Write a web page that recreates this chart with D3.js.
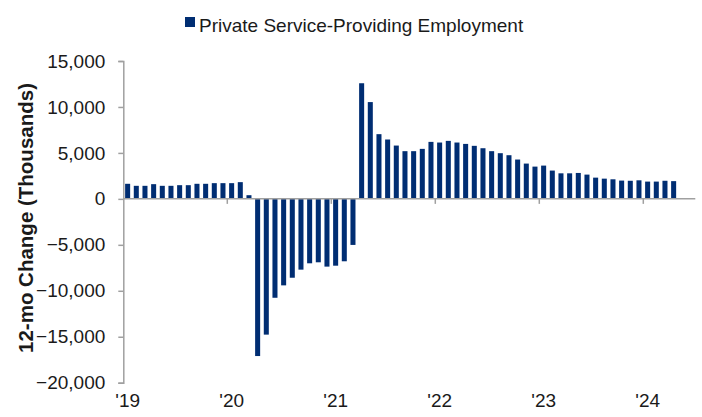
<!DOCTYPE html>
<html>
<head>
<meta charset="utf-8">
<script src="https://d3js.org/d3.v7.min.js"></script>
<style>
  body { margin: 0; background: #fff; }
  text { font-family: Arial, "Liberation Sans", sans-serif; }
</style>
</head>
<body>
<svg id="chart" width="702" height="417"></svg>
<script>
// monthly 12-mo change, Jan 2019 .. Apr 2024 (thousands)
var seriesName = "Private Service-Providing Employment";
var yearLabels = ["'19", "'20", "'21", "'22", "'23", "'24"];
var v2019 = [1640, 1420, 1420, 1600, 1420, 1420, 1490, 1490, 1640, 1640, 1710, 1710];
var v2020 = [1710, 1820, 400, -17100, -14770, -10760, -9410, -8580, -7700, -7010, -6900, -7370];
var v2021 = [-7270, -6790, -5010, 12580, 10530, 7040, 6460, 5800, 5190, 5190, 5440, 6200];
var v2022 = [6130, 6310, 6130, 5980, 5770, 5510, 5190, 4970, 4750, 4280, 3840, 3510];
var v2023 = [3620, 3080, 2780, 2780, 2820, 2640, 2310, 2200, 2130, 1990, 1970, 2020];
var v2024 = [1880, 1880, 1970, 1930];
var yTicks = [-20000, -15000, -10000, -5000, 0, 5000, 10000, 15000];
var monthsShown = 66; // axis runs through Jun 2024

var values = [].concat(v2019, v2020, v2021, v2022, v2023, v2024);
var data = values.map(function(v, i) { return { idx: i, value: v }; });

var svg = d3.select("#chart");
var margin = { left: 123.3, right: 702 - 695.3, top: 61, bottom: 417 - 382.7 };
var barColor = "#002d72";
var axisColor = "#a0a0a0";
var textColor = "#1a1a1a";
var fontSize = 19;

var x = d3.scaleBand()
    .domain(d3.range(monthsShown))
    .range([margin.left, 702 - margin.right])
    .paddingInner(0.42)
    .paddingOuter(0.21);
var step = x.step();

var y = d3.scaleLinear()
    .domain([-20000, 15000])
    .range([417 - margin.bottom, margin.top]);

// bars
svg.append("g")
  .selectAll("rect")
  .data(data)
  .enter().append("rect")
    .attr("x", function(d) { return x(d.idx); })
    .attr("width", x.bandwidth())
    .attr("y", function(d) { return y(Math.max(0, d.value)); })
    .attr("height", function(d) { return Math.abs(y(d.value) - y(0)); })
    .attr("fill", barColor);

// y axis
var yAxis = svg.append("g")
    .attr("transform", "translate(" + margin.left + ",0)")
    .call(d3.axisLeft(y).tickValues(yTicks).tickSize(5).tickPadding(13)
      .tickFormat(d3.format(",")));
yAxis.select(".domain").attr("stroke", axisColor).attr("stroke-width", 1.5);
yAxis.selectAll(".tick line").attr("stroke", axisColor).attr("stroke-width", 1.5);
yAxis.selectAll(".tick text")
    .attr("fill", textColor)
    .attr("font-size", fontSize)
    .style("font-family", "Arial, 'Liberation Sans', sans-serif");

// x axis line at zero
svg.append("line")
    .attr("x1", margin.left).attr("x2", 702 - margin.right)
    .attr("y1", y(0)).attr("y2", y(0))
    .attr("stroke", axisColor).attr("stroke-width", 1.5);

// year boundary ticks
var yearStarts = yearLabels.map(function(d, i) { return i * 12; });
svg.append("g").selectAll("line")
  .data(yearStarts.slice(1))
  .enter().append("line")
    .attr("x1", function(d) { return x(d) - step * x.paddingInner() / 2; })
    .attr("x2", function(d) { return x(d) - step * x.paddingInner() / 2; })
    .attr("y1", y(0)).attr("y2", y(0) + 5)
    .attr("stroke", axisColor).attr("stroke-width", 1.5);

// year labels centred on each January
svg.append("g").selectAll("text")
  .data(yearLabels)
  .enter().append("text")
    .attr("x", function(d, i) { return x(i * 12) + x.bandwidth() / 2; })
    .attr("y", 406.5)
    .attr("text-anchor", "middle")
    .attr("font-size", fontSize)
    .attr("fill", textColor)
    .text(function(d) { return d; });

// y title
svg.append("text")
    .attr("transform", "translate(33,218) rotate(-90)")
    .attr("text-anchor", "middle")
    .attr("font-size", 20.5)
    .attr("font-weight", "bold")
    .attr("fill", textColor)
    .text("12-mo Change (Thousands)");

// legend
var legend = svg.append("g");
legend.append("rect")
    .attr("x", 185).attr("y", 17)
    .attr("width", 10).attr("height", 10)
    .attr("fill", barColor);
legend.append("text")
    .attr("x", 199).attr("y", 31.5)
    .attr("font-size", fontSize)
    .attr("fill", textColor)
    .text(seriesName);
</script>
</body>
</html>
